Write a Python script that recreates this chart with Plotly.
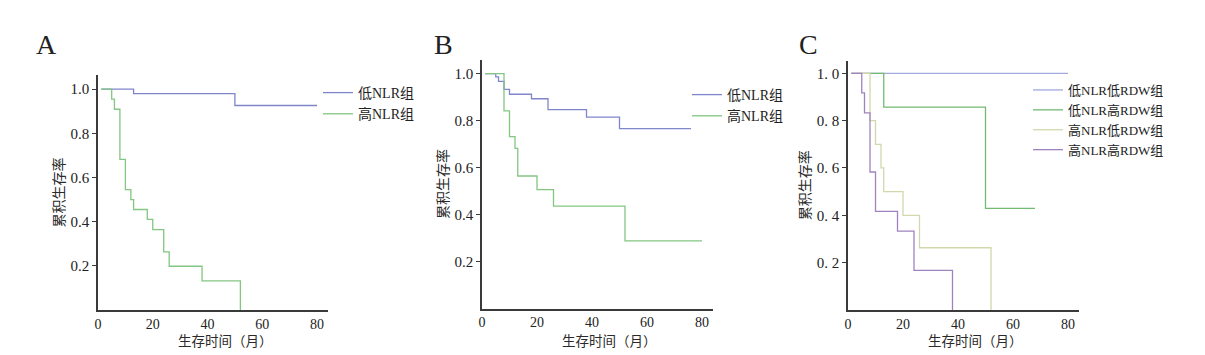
import plotly.graph_objects as go

# ---------------- data ----------------
# Panel A
a_low_t = [1.2, 13, 50, 80]
a_low_s = [1.0, 0.98, 0.926, 0.926]
a_high_t = [1.2, 5, 6, 8, 10, 12, 13, 18, 20, 24, 26, 38, 52]
a_high_s = [1.0, 0.955, 0.909, 0.682, 0.545, 0.5, 0.455, 0.41, 0.364, 0.263, 0.198, 0.132, 0.0]

# Panel B
b_low_t = [1.2, 5, 6, 8, 10, 18, 24, 38, 50, 76]
b_low_s = [1.0, 0.986, 0.967, 0.933, 0.912, 0.893, 0.847, 0.815, 0.766, 0.766]
b_high_t = [1.2, 8, 10, 12, 13, 20, 26, 52, 80]
b_high_s = [1.0, 0.841, 0.732, 0.682, 0.564, 0.506, 0.436, 0.288, 0.288]

# Panel C
c_ll_t = [1.2, 80]
c_ll_s = [1.0, 1.0]
c_lh_t = [1.2, 13, 50, 68]
c_lh_s = [1.0, 0.857, 0.429, 0.429]
c_hl_t = [1.2, 8, 10, 12, 13, 20, 26, 52]
c_hl_s = [1.0, 0.8, 0.7, 0.6, 0.5, 0.4, 0.263, 0.0]
c_hh_t = [1.2, 5, 6, 8, 10, 18, 24, 38]
c_hh_s = [1.0, 0.917, 0.833, 0.583, 0.417, 0.333, 0.167, 0.0]

names_ab = ["低NLR组", "高NLR组"]
names_c = ["低NLR低RDW组", "低NLR高RDW组", "高NLR低RDW组", "高NLR高RDW组"]
panel_letters = ["A", "B", "C"]

x_ticks = [0, 20, 40, 60, 80]
y_ticks = [0.2, 0.4, 0.6, 0.8, 1.0]
y_ticktext_ab = ["0.2", "0.4", "0.6", "0.8", "1.0"]
y_ticktext_c = ["0. 2", "0. 4", "0. 6", "0. 8", "1. 0"]

y_title = "累积生存率"
x_title = "生存时间（月）"

# ---------------- style ----------------
SERIF = "Liberation Serif, Noto Sans CJK SC, serif"
CJK = "Noto Sans CJK SC, sans-serif"
AXC = "#3a3a3a"

col_blue = "#7f86cc"
col_green = "#82c682"
col_c_blue = "#a3a8de"
col_c_green = "#72bb72"
col_c_yellow = "#d2d8ac"
col_c_purple = "#a182c0"

fig = go.Figure()

def add(t, s, name, color, xa, ya, legend, width=1.3):
    fig.add_trace(go.Scatter(
        x=t, y=s, mode="lines", line=dict(shape="hv", color=color, width=width),
        name=name, xaxis=xa, yaxis=ya, legend=legend, hoverinfo="x+y+name"))

add(a_low_t, a_low_s, names_ab[0], col_blue, "x", "y", "legend")
add(a_high_t, a_high_s, names_ab[1], col_green, "x", "y", "legend")
add(b_low_t, b_low_s, names_ab[0], col_blue, "x2", "y2", "legend2")
add(b_high_t, b_high_s, names_ab[1], col_green, "x2", "y2", "legend2")
add(c_ll_t, c_ll_s, names_c[0], col_c_blue, "x3", "y3", "legend3")
add(c_lh_t, c_lh_s, names_c[1], col_c_green, "x3", "y3", "legend3")
add(c_hl_t, c_hl_s, names_c[2], col_c_yellow, "x3", "y3", "legend3")
add(c_hh_t, c_hh_s, names_c[3], col_c_purple, "x3", "y3", "legend3")

# the page body has an 8px margin, so the figure is drawn 8px in and 8px smaller
OFF = 8
W, H = 1205 - OFF, 355 - OFF

def px(xp):
    return (xp - OFF) / W

def py(yp):
    return 1 - (yp - OFF) / H

# (left px, right px, bottom px, top px, y max) in window pixels
panels = [
    (98, 328, 310, 75, 1.064),
    (482, 713, 308.5, 59.5, 1.06),
    (848, 1079, 310, 60.5, 1.054),
]

layout = dict(
    width=W, height=H,
    margin=dict(l=0, r=0, t=0, b=0, autoexpand=False),
    paper_bgcolor="white", plot_bgcolor="white",
    showlegend=True,
    font=dict(family=SERIF, color="#222"),
)

ann = []
for i, (l, r, b, t, ymax) in enumerate(panels):
    sfx = "" if i == 0 else str(i + 1)
    layout["xaxis" + sfx] = dict(
        domain=[px(l), px(r)], range=[0, 84], anchor="y" + sfx, automargin=False,
        showgrid=False, zeroline=False, showline=True, linecolor=AXC, linewidth=1.5,
        ticks="", tickvals=x_ticks, tickfont=dict(family=SERIF, size=14, color="#222"),
    )
    layout["yaxis" + sfx] = dict(
        domain=[py(b), py(t)], range=[0, ymax], anchor="x" + sfx, automargin=False,
        showgrid=False, zeroline=False, showline=True, linecolor=AXC, linewidth=1.5,
        ticks="outside", ticklen=4, tickwidth=1, tickcolor=AXC,
        tickvals=y_ticks, ticktext=(y_ticktext_c if i == 2 else y_ticktext_ab),
        tickfont=dict(family=SERIF, size=15, color="#222"),
        title=dict(text=y_title, font=dict(family=CJK, size=14, color="#2a2a2a"), standoff=3),
    )
    # x-axis title placed just below the tick labels
    ann.append(dict(text=x_title, x=px((l + r) / 2 + 12), y=py(340), xref="paper", yref="paper",
                    xanchor="center", yanchor="middle", showarrow=False,
                    font=dict(family=CJK, size=13.5, color="#2a2a2a")))

leg_common = dict(bgcolor="rgba(0,0,0,0)", borderwidth=0, xanchor="left", yanchor="top",
                  tracegroupgap=0, itemwidth=30)
layout["legend"] = dict(x=px(318), y=py(77), font=dict(family=SERIF, size=14, color="#222"), **leg_common)
layout["legend2"] = dict(x=px(687), y=py(79), font=dict(family=SERIF, size=14, color="#222"), **leg_common)
layout["legend3"] = dict(x=px(1028), y=py(75), font=dict(family=SERIF, size=13, color="#222"), **leg_common)

for letter, xp in zip(panel_letters, [46, 443, 808]):
    ann.append(dict(text=letter, x=px(xp), y=py(45), xref="paper", yref="paper",
                    xanchor="center", yanchor="middle", showarrow=False,
                    font=dict(family="Liberation Serif, serif", size=28, color="#222")))
layout["annotations"] = ann

fig.update_layout(**layout)
fig.write_html("out.html")
